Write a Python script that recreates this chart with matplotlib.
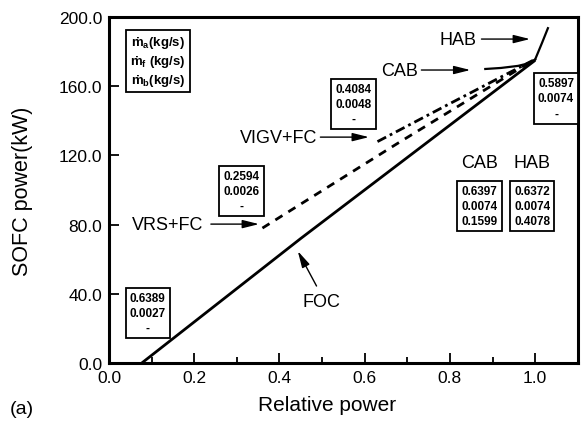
import matplotlib
matplotlib.use("Agg")
import matplotlib.pyplot as plt
from matplotlib.ticker import MultipleLocator, FormatStrFormatter

plt.rcParams['font.family'] = ['Liberation Sans', 'DejaVu Sans']
plt.rcParams['mathtext.fontset'] = 'custom'
plt.rcParams['mathtext.rm'] = 'Liberation Sans'
plt.rcParams['mathtext.bf'] = 'Liberation Sans:bold'
plt.rcParams['lines.scale_dashes'] = False

# curves
foc_x = [0.077, 0.45, 1.0]
foc_y = [0.0, 72.0, 175.0]
vrs_x = [0.36, 0.674, 0.995]
vrs_y = [78.0, 126.5, 175.0]
vigv_x = [0.63, 0.80, 0.995]
vigv_y = [128.0, 150.0, 175.0]
cab_x = [0.883, 0.92, 0.96, 0.985, 1.0]
cab_y = [170.0, 170.6, 171.8, 173.3, 175.5]
hab_x = [1.0, 1.016, 1.030]
hab_y = [175.5, 185.0, 193.6]

# boxed values: (text, x, y)
box_vals = [("0.6389\n0.0027\n-", 0.091, 28.9),
            ("0.2594\n0.0026\n-", 0.311, 99.4),
            ("0.4084\n0.0048\n-", 0.574, 149.7),
            ("0.5897\n0.0074\n-", 1.049, 153.0),
            ("0.6397\n0.0074\n0.1599", 0.869, 90.8),
            ("0.6372\n0.0074\n0.4078", 0.993, 90.8)]

# arrow labels: (text, text x, text y, tail x, tail y, head x, head y)
arrow_labels = [("HAB", 0.82, 187.3, 0.874, 187.3, 0.988, 187.3),
                ("CAB", 0.681, 169.4, 0.733, 169.4, 0.848, 169.4),
                ("VIGV+FC", 0.398, 130.6, 0.496, 130.6, 0.61, 130.6),
                ("VRS+FC", 0.138, 80.3, 0.239, 80.3, 0.352, 80.3)]

fig = plt.figure(figsize=(5.83, 4.31), dpi=100)
ax = fig.add_axes([0.187, 0.1555, 0.804, 0.8025])

ax.plot(foc_x, foc_y, color='black', lw=2.0, solid_capstyle='butt')
ax.plot(vrs_x, vrs_y, color='black', lw=2.0, dashes=(6, 5))
ax.plot(vigv_x, vigv_y, color='black', lw=2.0, dashes=(7, 3, 2, 3))
ax.plot(cab_x, cab_y, color='black', lw=1.6)
ax.plot(hab_x, hab_y, color='black', lw=1.6, clip_on=False)

ax.set_xlim(0, 1.1)
ax.set_ylim(0, 200)
ax.xaxis.set_major_locator(MultipleLocator(0.2))
ax.xaxis.set_minor_locator(MultipleLocator(0.1))
ax.yaxis.set_major_locator(MultipleLocator(40))
ax.xaxis.set_major_formatter(FormatStrFormatter('%.1f'))
ax.yaxis.set_major_formatter(FormatStrFormatter('%.1f'))
ax.tick_params(which='major', direction='in', length=7, width=1.3, labelsize=12.5, pad=5)
ax.tick_params(which='minor', direction='in', length=4, width=1.3)
for s in ax.spines.values():
    s.set_linewidth(2.2)

ax.set_xlabel("Relative power", fontsize=15)
ax.set_ylabel("SOFC power(kW)", fontsize=15.5)
ax.xaxis.set_label_coords(0.465, -0.093)
ax.yaxis.set_label_coords(-0.162, 0.5)
fig.text(0.038, 0.05, "(a)", fontsize=14, ha='center', va='center')

for txt, bx, by in box_vals:
    ax.text(bx, by, txt, ha='center', va='center', fontsize=8.5, fontweight='bold',
            linespacing=1.35, clip_on=False,
            bbox=dict(boxstyle='square,pad=0.35', fc='white', ec='black', lw=1.3))

ax.text(0.115, 174.6,
        "\u1e41$_{\\mathbf{a}}$(kg/s)\n\u1e41$_{\\mathbf{f}}$ (kg/s)\n\u1e41$_{\\mathbf{b}}$(kg/s)",
        ha='center', va='center', fontsize=9.5, fontweight='bold', linespacing=1.25,
        bbox=dict(boxstyle='square,pad=0.3', fc='white', ec='black', lw=1.3))

ax.text(0.869, 116, "CAB", ha='center', va='center', fontsize=13)
ax.text(0.993, 116, "HAB", ha='center', va='center', fontsize=13)

for txt, tx, ty, ax0, ay0, ax1, ay1 in arrow_labels:
    ax.text(tx, ty, txt, ha='center', va='center', fontsize=13)
    ax.annotate("", xy=(ax1, ay1), xytext=(ax0, ay0),
                arrowprops=dict(arrowstyle='-|>,head_length=1.0,head_width=0.25',
                                color='black', lw=1.0, shrinkA=0, shrinkB=0))

ax.text(0.499, 35.8, "FOC", ha='center', va='center', fontsize=13)
ax.annotate("", xy=(0.443, 64.7), xytext=(0.487, 44.5),
            arrowprops=dict(arrowstyle='-|>,head_length=1.0,head_width=0.25',
                            color='black', lw=1.0, shrinkA=0, shrinkB=0))

fig.savefig("out.png", dpi=100)
